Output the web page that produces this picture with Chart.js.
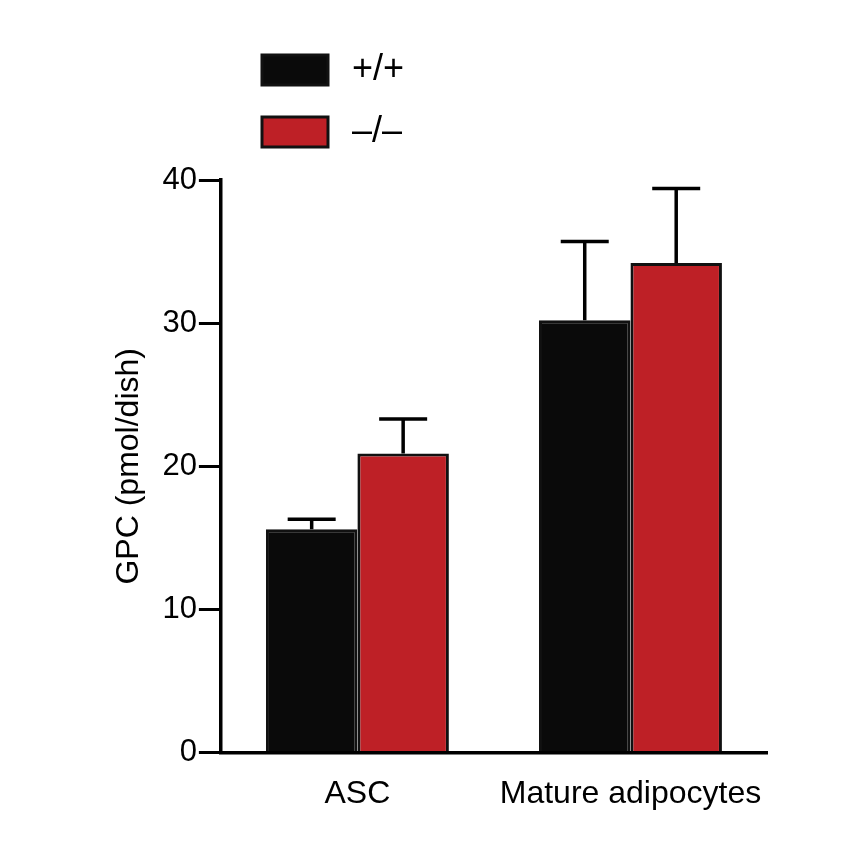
<!DOCTYPE html>
<html><head><meta charset="utf-8">
<script src="https://cdn.jsdelivr.net/npm/chart.js@4"></script>
<style>html,body{margin:0;background:#fff}</style></head>
<body><canvas id="c" width="848" height="859"></canvas>
<script>
const categories = ["ASC", "Mature adipocytes"];
const seriesNames = ["+/+", "\u2013/\u2013"];
const wildType = [15.6, 30.2];
const knockout = [20.9, 34.2];
const wildTypeErr = [16.3, 35.7];
const knockoutErr = [23.3, 39.4];
const yTicks = [0, 10, 20, 30, 40];
const colors = ["#0a0a0a", "#be2026"];
const FONT = "'Liberation Sans', Arial, sans-serif";

const errorPlugin = {
  id: 'err',
  afterDatasetsDraw(chart) {
    const ctx = chart.ctx, y = chart.scales.y;
    const errs = [wildTypeErr, knockoutErr];
    chart.data.datasets.forEach((ds, i) => {
      chart.getDatasetMeta(i).data.forEach((bar, j) => {
        const top = y.getPixelForValue(errs[i][j]);
        ctx.save(); ctx.strokeStyle = '#000'; ctx.lineWidth = 3.5;
        ctx.beginPath();
        ctx.moveTo(bar.x, bar.y); ctx.lineTo(bar.x, top);
        ctx.moveTo(bar.x - 24, top); ctx.lineTo(bar.x + 24, top);
        ctx.stroke(); ctx.restore();
      });
    });
  }
};
const legendPlugin = {
  id: 'leg',
  afterDraw(chart) {
    const ctx = chart.ctx;
    chart.data.datasets.forEach((ds, i) => {
      const yy = 55 + i * 62;
      ctx.save();
      ctx.fillStyle = ds.backgroundColor; ctx.strokeStyle = '#111'; ctx.lineWidth = 3;
      ctx.fillRect(262, yy, 66, 30); ctx.strokeRect(262, yy, 66, 30);
      ctx.fillStyle = '#000'; ctx.font = '36px ' + FONT; ctx.textBaseline = 'middle';
      ctx.fillText(ds.label, 352, yy + 15);
      ctx.restore();
    });
  }
};

new Chart(document.getElementById('c'), {
  type: 'bar',
  data: {
    labels: categories,
    datasets: [
      { label: seriesNames[0], data: wildType, backgroundColor: colors[0], borderColor: '#111', borderWidth: 3 },
      { label: seriesNames[1], data: knockout, backgroundColor: colors[1], borderColor: '#111', borderWidth: 3 }
    ]
  },
  options: {
    responsive: false, animation: false,
    layout: { padding: { top: 180, right: 81, bottom: 32, left: 98 } },
    categoryPercentage: 0.67, barPercentage: 1.0,
    plugins: { legend: { display: false }, tooltip: { enabled: false } },
    scales: {
      y: {
        min: 0, max: 40,
        afterBuildTicks(s) { s.ticks = yTicks.map(v => ({ value: v })); },
        grid: { drawOnChartArea: false, tickLength: 22, color: '#000', lineWidth: 3 },
        border: { color: '#000', width: 3.5 },
        ticks: { color: '#000', font: { size: 31, family: FONT }, padding: 2 },
        title: { display: true, text: 'GPC (pmol/dish)', color: '#000', font: { size: 32, family: FONT }, padding: 12 }
      },
      x: {
        grid: { display: false },
        border: { color: '#000', width: 3.5 },
        ticks: { color: '#000', font: { size: 32, family: FONT }, padding: 14 }
      }
    }
  },
  plugins: [errorPlugin, legendPlugin]
});
</script></body></html>
